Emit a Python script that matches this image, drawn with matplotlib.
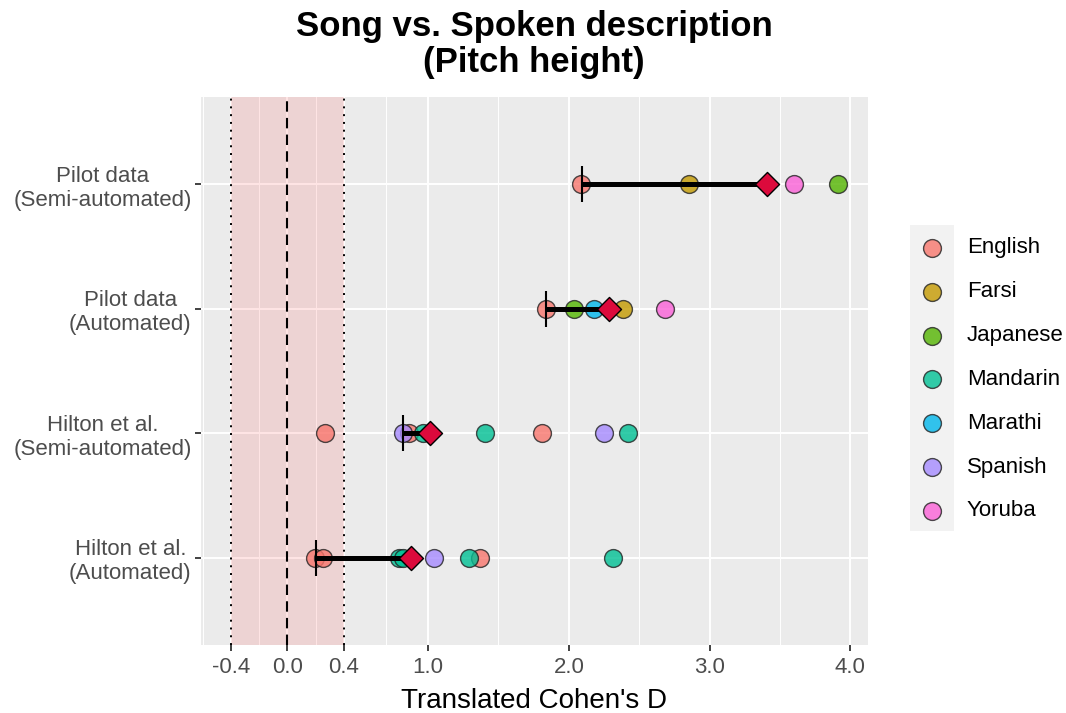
import numpy as np
import matplotlib.pyplot as plt
import pandas as pd

plt.rcParams['font.family'] = ['Liberation Sans', 'DejaVu Sans']

# rows from bottom to top
Groups = ['Hilton et al.\n(Automated)', 'Hilton et al.\n(Semi-automated)',
          'Pilot data\n(Automated)', 'Pilot data\n(Semi-automated)']

Languages = ['English', 'Farsi', 'Japanese', 'Mandarin', 'Marathi', 'Spanish', 'Yoruba']
Colours = ['#F8766D', '#C49A00', '#53B400', '#00C094', '#00B6EB', '#A58AFF', '#FB61D7']

# individual effect sizes (group index, language, d)
point_group = [0, 0, 0, 0, 0, 0, 0, 0,
               1, 1, 1, 1, 1, 1, 1, 1,
               2, 2, 2, 2, 2,
               3, 3, 3, 3]
point_lang = ['English', 'English', 'Mandarin', 'Mandarin', 'Spanish', 'Mandarin', 'English', 'Mandarin',
              'English', 'Spanish', 'English', 'Mandarin', 'Mandarin', 'English', 'Spanish', 'Mandarin',
              'English', 'Japanese', 'Marathi', 'Farsi', 'Yoruba',
              'English', 'Farsi', 'Yoruba', 'Japanese']
point_d = [0.195, 0.25, 0.79, 0.82, 1.04, 1.287, 1.367, 2.31,
           0.265, 0.82, 0.865, 0.964, 1.406, 1.81, 2.25, 2.42,
           1.837, 2.035, 2.177, 2.383, 2.68,
           2.085, 2.85, 3.60, 3.91]

# start marker and summary diamond per group
start_d = [0.207, 0.82, 1.84, 2.09]
summary_d = [0.875, 1.013, 2.284, 3.408]

ROPE = 0.4

DATA = pd.DataFrame({'group': point_group, 'lang': point_lang, 'd': point_d})

fig = plt.figure(figsize=(10.66, 7.13), dpi=100)
ax = fig.add_axes([0.1883, 0.0954, 0.6260, 0.7686])
ax.set_facecolor('#EBEBEB')
ax.set_axisbelow(True)

xticks = [-0.4, 0.0, 0.4, 1.0, 2.0, 3.0, 4.0]
minor = [-0.6, -0.2, 0.2, 0.7, 1.5, 2.5, 3.5]
ax.set_xticks(xticks)
ax.set_xticklabels(['{:.1f}'.format(t) for t in xticks])
ax.set_xticks(minor, minor=True)
ax.grid(which='major', color='white', linewidth=1.4)
ax.grid(which='minor', axis='x', color='white', linewidth=0.7)
ax.tick_params(which='minor', length=0)

ax.axvspan(-ROPE, ROPE, color='red', alpha=0.1, linewidth=0, zorder=1)
ax.axvline(-ROPE, color='black', linestyle=(0, (1, 3)), linewidth=1.4, zorder=1.5)
ax.axvline(ROPE, color='black', linestyle=(0, (1, 3)), linewidth=1.4, zorder=1.5)
ax.axvline(0, color='black', linestyle=(0, (5, 3)), linewidth=1.5, zorder=1.5)

cmap = dict(zip(Languages, Colours))
for lang in Languages:
    sub = DATA[DATA['lang'] == lang]
    ax.scatter(sub['d'], sub['group'] + 1, s=165, color=cmap[lang], alpha=0.8,
               edgecolors='#222222', linewidths=1.0, zorder=3)

ys = np.arange(len(Groups)) + 1
for i in range(len(Groups)):
    ax.plot([start_d[i], summary_d[i]], [ys[i], ys[i]], color='black', linewidth=3.6,
            solid_capstyle='butt', zorder=4)
ax.scatter(start_d, ys, marker='|', s=650, color='black', linewidths=1.5, zorder=5)
ax.scatter(summary_d, ys, marker='D', s=150, color='#DC0A3C', edgecolors='black',
           linewidths=1.0, zorder=6)

ax.set_xlim(-0.6155, 4.1255)
ax.set_ylim(0.3, 4.7)
ax.set_yticks(ys)
ax.set_yticklabels(Groups, multialignment='center')
for s in ax.spines.values():
    s.set_visible(False)
ax.tick_params(axis='both', which='major', colors='#333333', length=4.5, width=1.3,
               labelsize=16, labelcolor='#4D4D4D')
ax.tick_params(axis='y', pad=2)
ax.tick_params(axis='x', pad=4)
ax.set_xlabel("Translated Cohen's D", fontsize=20, labelpad=7)

fig.text(534 / 1066, 1 - 10 / 713, 'Song vs. Spoken description\n(Pitch height)',
         ha='center', va='top', fontsize=25, fontweight='bold', linespacing=1.1)

# legend drawn by hand so the key column gets the grey backing
lax = fig.add_axes([0, 0, 1, 1], facecolor='none')
lax.set_xlim(0, 1066)
lax.set_ylim(713, 0)
lax.axis('off')
lax.add_patch(plt.Rectangle((910, 225), 44, 306, color='#F2F2F2', linewidth=0))
for i, lang in enumerate(Languages):
    yy = 248 + i * 43.8
    lax.scatter([932], [yy], s=165, color=cmap[lang], alpha=0.8,
                edgecolors='#222222', linewidths=1.0)
    lax.text(967, yy, lang, fontsize=16, va='center', ha='left')

plt.savefig('out.png', dpi=100)
